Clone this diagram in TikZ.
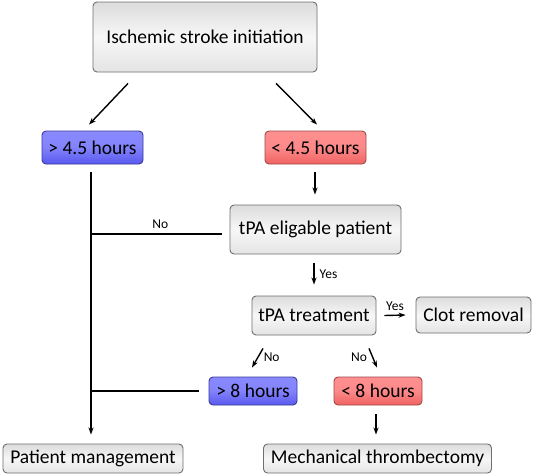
\documentclass[tikz,border=0pt]{standalone}
\usepackage{fontspec}
\setmainfont{Carlito}
\usetikzlibrary{arrows.meta,calc}
\definecolor{boxline}{HTML}{6E6E6E}
\definecolor{graytop}{HTML}{DCDCDC}
\definecolor{graymid}{HTML}{F7F7F7}
\definecolor{graybot}{HTML}{E4E4E4}
\definecolor{bluetop}{HTML}{8A8AFF}
\definecolor{bluebot}{HTML}{5858EE}
\definecolor{blueline}{HTML}{3A3A9A}
\definecolor{redtop}{HTML}{FF9090}
\definecolor{redbot}{HTML}{F06262}
\definecolor{redline}{HTML}{A04848}
\tikzset{
  box/.style={draw=boxline, line width=0.9pt, rounded corners=4pt, inner sep=0pt,
    top color=graytop, bottom color=graybot, middle color=graymid,
    font=\fontsize{19.5}{22}\selectfont, text=black},
  bluebox/.style={box, draw=blueline, top color=bluetop, bottom color=bluebot, middle color=bluetop!85!bluebot},
  redbox/.style={box, draw=redline, top color=redtop, bottom color=redbot, middle color=redtop!85!redbot},
  arr/.style={line width=1.4pt, -{Stealth[length=7pt,width=5pt]}},
  conn/.style={line width=1.4pt},
  lbl/.style={font=\fontsize{13.5}{15}\selectfont, inner sep=0pt}
}
\begin{document}
\begin{tikzpicture}[x=1pt,y=-1pt]
\useasboundingbox (0,0) rectangle (533,474);
\node[box, minimum width=224pt, minimum height=70pt] (top) at (205,37) {Ischemic stroke initiation};
\node[bluebox, minimum width=101pt, minimum height=33pt] (gt45) at (92.5,147.5) {> 4.5 hours};
\node[redbox, minimum width=101pt, minimum height=33pt] (lt45) at (315.5,147.5) {< 4.5 hours};
\node[box, minimum width=171pt, minimum height=49pt] (elig) at (315.5,229.5) {tPA eligable patient};
\node[box, minimum width=124pt, minimum height=39pt] (treat) at (314,315.5) {tPA treatment};
\node[box, minimum width=115pt, minimum height=36pt] (clot) at (473.5,315) {Clot removal};
\node[bluebox, minimum width=88pt, minimum height=28pt] (gt8) at (253,391) {> 8 hours};
\node[redbox, minimum width=88pt, minimum height=28pt] (lt8) at (378,391) {< 8 hours};
\node[box, minimum width=180pt, minimum height=29pt] (pm) at (93,458.5) {Patient management};
\node[box, minimum width=228pt, minimum height=29pt] (mt) at (377.5,458.5) {Mechanical thrombectomy};

% top to first level
\draw[arr] ([xshift=-77pt,yshift=-11pt]top.south) -- ([xshift=-3.5pt,yshift=6pt]gt45.north);
\draw[arr] ([xshift=71pt,yshift=-11pt]top.south) -- ([xshift=1.5pt,yshift=6pt]lt45.north);
% left trunk
\draw[arr] ([xshift=-1.5pt,yshift=-8pt]gt45.south) -- ([xshift=-1.5pt,yshift=9pt]gt45.south |- pm.north);
\draw[conn] ([xshift=-8pt,yshift=-4.5pt]elig.west) -- ([xshift=-1.5pt,yshift=-4.5pt]gt45.south |- elig.west) node[lbl, midway, above=5pt, xshift=4pt] {No};
\draw[conn] ([xshift=-10pt]gt8.west) -- ([xshift=-1.5pt]gt45.south |- gt8.west);
% right column
\draw[arr] ([xshift=-0.5pt,yshift=-8pt]lt45.south) -- ([xshift=-0.5pt,yshift=10pt]lt45.south |- elig.north);
\draw[arr] ([xshift=-1.5pt,yshift=-9pt]elig.south) -- ([xshift=-1.5pt,yshift=11pt]elig.south |- treat.north) node[lbl, midway, right=5pt] {Yes};
\draw[arr] ([xshift=8pt]treat.east) -- ([xshift=-10pt]clot.west) node[lbl, midway, above=4pt] {Yes};
\draw[arr] ([xshift=-51pt,yshift=-13pt]treat.south) -- ([xshift=-1pt,yshift=9pt]gt8.north) node[lbl, pos=0.45, right=5pt] {No};
\draw[arr] ([xshift=55pt,yshift=-13pt]treat.south) -- ([xshift=-1pt,yshift=9pt]lt8.north) node[lbl, pos=0.45, left=5pt] {No};
\draw[arr] ([xshift=-2pt,yshift=-9pt]lt8.south) -- ([xshift=-2pt,yshift=9pt]lt8.south |- mt.north);
\end{tikzpicture}
\end{document}
